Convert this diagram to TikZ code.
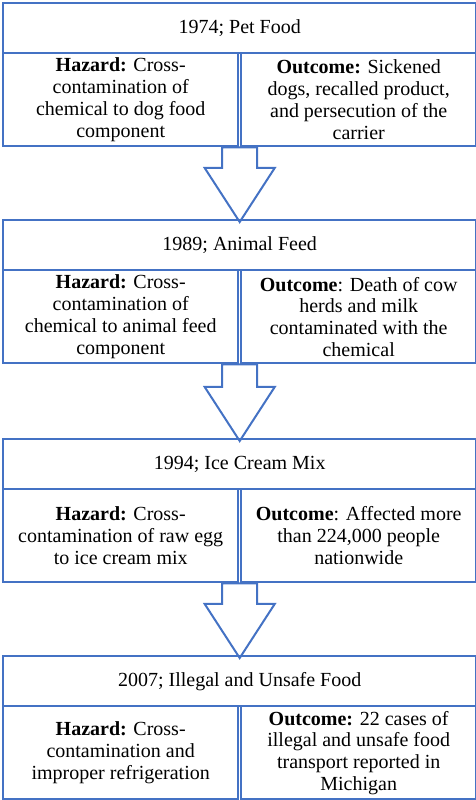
\documentclass[tikz,border=0pt]{standalone}
\usepackage{fontspec}
\setmainfont{Liberation Serif}
\usetikzlibrary{calc,backgrounds}
\definecolor{boxblue}{HTML}{4472C4}

\begin{document}
\begin{tikzpicture}[x=1pt, y=1pt,
	yearbox/.style={draw=boxblue, line width=2.4pt, minimum width=473pt, minimum height=50pt, anchor=north west, inner sep=0pt, font=\fontsize{20}{21.7}\selectfont},
	infobox/.style={draw=boxblue, line width=2.4pt, minimum width=235pt, minimum height=93pt, anchor=north west, inner sep=0pt, align=center, font=\fontsize{20}{21.7}\selectfont},
	flowarrow/.style={draw=boxblue, line width=2pt, fill=white, line join=miter}]
	\useasboundingbox (0, 0) rectangle (476, 800);
	% the four events, top to bottom
	\node[yearbox] (t1) at (2, 798) {1974; Pet Food};
	\node[yearbox] (t2) at (2, 581) {1989; Animal Feed};
	\node[yearbox] (t3) at (2, 362) {1994; Ice Cream Mix};
	\node[yearbox] (t4) at (2, 145) {2007; Illegal and Unsafe Food};
	% hazard and outcome boxes
	\node[infobox] (hz1) at (2, 748) {\textbf{Hazard:} Cross-\\contamination of\\chemical to dog food\\component};
	\node[infobox] (oc1) at (240, 748) {\textbf{Outcome:} Sickened\\dogs, recalled product,\\and persecution of the\\carrier};
	\node[infobox] (hz2) at (2, 531) {\textbf{Hazard:} Cross-\\contamination of\\chemical to animal feed\\component};
	\node[infobox] (oc2) at (240, 531) {\textbf{Outcome}: Death of cow\\herds and milk\\contaminated with the\\chemical};
	\node[infobox] (hz3) at (2, 312) {\textbf{Hazard:} Cross-\\contamination of raw egg\\to ice cream mix};
	\node[infobox] (oc3) at (240, 312) {\textbf{Outcome}: Affected more\\than 224,000 people\\nationwide};
	\node[infobox] (hz4) at (2, 95) {\textbf{Hazard:} Cross-\\contamination and\\improper refrigeration};
	\node[infobox] (oc4) at (240, 95) {\textbf{Outcome:} 22 cases of\\illegal and unsafe food\\transport reported in\\Michigan};
	% arrows go under the boxes
	\begin{pgfonlayer}{background}
		\draw[flowarrow] ($(t1.south)+(-17.5,-93)$) -- ($(t2.north)+(-17.5,51)$) -- ($(t2.north)+(-35,51)$) -- ($(t2.north)+(0,-3)$) -- ($(t2.north)+(35,51)$) -- ($(t2.north)+(17.5,51)$) -- ($(t1.south)+(17.5,-93)$) -- cycle;
		\draw[flowarrow] ($(t2.south)+(-17.5,-93)$) -- ($(t3.north)+(-17.5,51)$) -- ($(t3.north)+(-35,51)$) -- ($(t3.north)+(0,-3)$) -- ($(t3.north)+(35,51)$) -- ($(t3.north)+(17.5,51)$) -- ($(t2.south)+(17.5,-93)$) -- cycle;
		\draw[flowarrow] ($(t3.south)+(-17.5,-93)$) -- ($(t4.north)+(-17.5,51)$) -- ($(t4.north)+(-35,51)$) -- ($(t4.north)+(0,-3)$) -- ($(t4.north)+(35,51)$) -- ($(t4.north)+(17.5,51)$) -- ($(t3.south)+(17.5,-93)$) -- cycle;
	\end{pgfonlayer}
\end{tikzpicture}
\end{document}
